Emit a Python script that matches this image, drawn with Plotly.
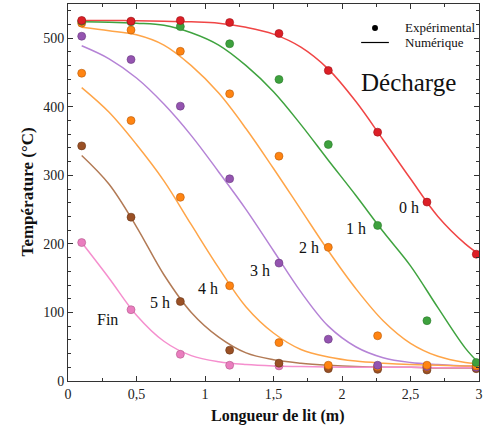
import plotly.graph_objects as go

# Experimental points
x_exp = [0.10, 0.46, 0.82, 1.18, 1.54, 1.90, 2.26, 2.62, 2.98]
exp_0h = [526, 525, 526, 523, 507, 453, 363, 261, 185]
exp_1h = [525, 524, 517, 492, 440, 345, 227, 88, 27]
exp_2h = [522, 512, 481, 419, 328, 195, 66, 23, 22]
exp_3h = [503, 469, 401, 295, 172, 61, 23, 21, 20]
exp_4h = [449, 380, 268, 139, 56, 23, 21, 20, 21]
exp_5h = [343, 239, 116, 45, 26, 18, 17, 16, 18]
exp_fin = [202, 104, 39, 23, 22, 20, 19, 19, 19]

# Numerical curves
x_num = [0.1, 0.3, 0.5, 0.7, 0.9, 1.1, 1.3, 1.5, 1.7, 1.9, 2.1, 2.3, 2.5, 2.7, 2.9, 3.0]
num_0h = [526, 526, 525.5, 525, 524, 522, 516, 506, 487, 455, 408, 352, 295, 240, 200, 185]
num_1h = [524, 523.5, 522, 519, 508, 490, 460, 422, 374, 322, 271, 218, 168, 107, 48, 26]
num_2h = [516, 511, 505, 490, 460, 420, 368, 310, 250, 190, 135, 88, 55, 36, 27, 25]
num_3h = [489, 470, 442, 404, 358, 305, 250, 190, 130, 80, 50, 34, 27, 24, 22, 22]
num_4h = [428, 392, 345, 292, 228, 165, 108, 70, 46, 35, 29, 26, 24, 23, 22, 22]
num_5h = [329, 287, 225, 155, 100, 64, 41, 31, 26, 23, 21, 20, 20, 19, 19, 19]
num_fin = [202, 150, 96, 58, 37, 28, 24, 22, 21, 20.5, 20, 20, 20, 19.5, 19.5, 19.5]

series_names = ["0 h", "1 h", "2 h", "3 h", "4 h", "5 h", "Fin"]
line_colors = ["#f04545", "#3fa33f", "#ffa548", "#b583d6", "#ffa548", "#b27a55", "#f58fce"]
point_colors = ["#dc1f26", "#3ea13e", "#ff8412", "#9454b0", "#ff8412", "#9a5025", "#ea7dbf"]
point_edges = ["#a01018", "#2a7a2a", "#b85a08", "#6a3a80", "#b85a08", "#6a3818", "#b05a8a"]

label_x = [2.49, 2.105, 1.757, 1.40, 1.024, 0.675, 0.289]
label_y = [253, 223, 195, 161, 135, 114, 89]

legend_labels = ["Expérimental", "Numérique"]

exp_all = [exp_0h, exp_1h, exp_2h, exp_3h, exp_4h, exp_5h, exp_fin]
num_all = [num_0h, num_1h, num_2h, num_3h, num_4h, num_5h, num_fin]

# plot area geometry (pixels) for paper-coordinate placement of legend/titles
W, H = 484, 425
ML, MR, MT, MB = 68, 1, 4, 44
PW, PH = W - ML - MR, H - MT - MB


def px(xp):
    return (xp - ML) / PW


def py(yp):
    return (H - MB - yp) / PH


fig = go.Figure()

for i in range(len(series_names)):
    fig.add_trace(go.Scatter(
        x=x_num, y=num_all[i], mode="lines",
        line=dict(color=line_colors[i], width=1.5, shape="spline", smoothing=1.0),
        showlegend=False, hoverinfo="skip"))

for i in reversed(range(len(series_names))):
    fig.add_trace(go.Scatter(
        x=x_exp, y=exp_all[i], mode="markers",
        marker=dict(color=point_colors[i], size=8,
                    line=dict(color=point_edges[i], width=0.6)),
        showlegend=False, name=series_names[i]))

for i in range(len(series_names)):
    fig.add_annotation(x=label_x[i], y=label_y[i], text=series_names[i],
                       showarrow=False, xanchor="center", yanchor="middle",
                       font=dict(family="Liberation Serif", size=16, color="#111"))

fig.add_annotation(x=2.485, y=436, text="Décharge", showarrow=False,
                   xanchor="center", yanchor="middle",
                   font=dict(family="Liberation Serif", size=25, color="#111"))

# legend (drawn manually to match spacing)
fig.add_shape(type="circle", xref="paper", yref="paper",
              x0=px(375), x1=px(381), y0=py(31), y1=py(25),
              fillcolor="black", line=dict(color="black", width=0))
fig.add_shape(type="line", xref="paper", yref="paper",
              x0=px(364), x1=px(392), y0=py(42.5), y1=py(42.5),
              line=dict(color="black", width=1.2))
fig.add_annotation(xref="paper", yref="paper", x=px(406), y=py(27.5),
                   text=legend_labels[0], showarrow=False, xanchor="left", yanchor="middle",
                   font=dict(family="Liberation Serif", size=13, color="#111"))
fig.add_annotation(xref="paper", yref="paper", x=px(406), y=py(42.5),
                   text=legend_labels[1], showarrow=False, xanchor="left", yanchor="middle",
                   font=dict(family="Liberation Serif", size=13, color="#111"))

# axis titles
fig.add_annotation(xref="paper", yref="paper", x=px(280), y=py(416),
                   text="<b>Longueur de lit (m)</b>", showarrow=False,
                   xanchor="center", yanchor="middle",
                   font=dict(family="Liberation Serif", size=16, color="#111"))
fig.add_annotation(xref="paper", yref="paper", x=px(27), y=py(192),
                   text="<b>Température (°C)</b>", showarrow=False, textangle=-90,
                   xanchor="center", yanchor="middle",
                   font=dict(family="Liberation Serif", size=17, color="#111"))

axis_common = dict(showline=True, linecolor="#333", linewidth=1, mirror="allticks",
                   ticks="inside", tickcolor="#333", showgrid=False, zeroline=False,
                   ticklabeloverflow="allow",
                   tickfont=dict(family="Liberation Serif", size=14, color="#222"))

fig.update_xaxes(range=[0, 3], dtick=0.5, tick0=0, ticklen=5,
                 minor=dict(ticks="inside", dtick=0.25, ticklen=3, tickcolor="#333", showgrid=False),
                 **axis_common)
fig.update_yaxes(range=[0, 550], dtick=100, tick0=0, ticklen=5,
                 minor=dict(ticks="inside", dtick=20, ticklen=3, tickcolor="#333", showgrid=False),
                 **axis_common)

fig.update_layout(
    width=W, height=H,
    margin=dict(l=ML, r=MR, t=MT, b=MB),
    plot_bgcolor="white", paper_bgcolor="white",
    separators=", ",
    showlegend=False,
)

fig.write_html("out.html", config={"displayModeBar": False},
               post_script="document.body.style.margin='0';document.body.style.overflow='hidden';")
